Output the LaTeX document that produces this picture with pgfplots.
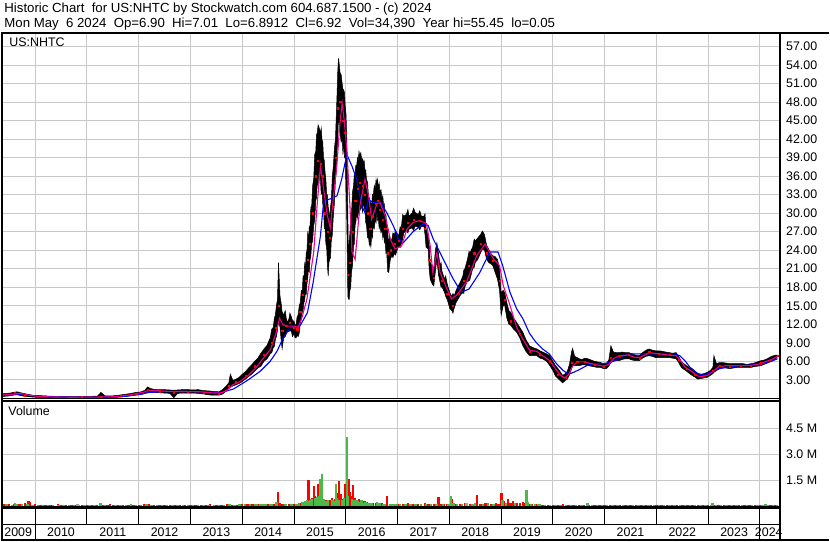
\documentclass[border=0pt]{standalone}
\usepackage{fontspec}
\setmainfont{Liberation Sans}
\usepackage{pgfplots}
\usepackage{pgfplotstable}
\pgfplotsset{compat=1.18}
\usepgfplotslibrary{fillbetween}
\definecolor{gridc}{HTML}{C8C8C8}
\definecolor{vgreen}{HTML}{4CB848}
\definecolor{vred}{HTML}{FF0000}
\definecolor{vgrey}{HTML}{A0A0A0}
\newcommand\lbl{\fontsize{12.5}{15}\selectfont}

% daily range envelope (high / low) and close
\pgfplotstableread{
t hi lo c
2009.38 0.75 0.30 0.55
2009.45 0.80 0.35 0.60
2009.52 0.85 0.40 0.65
2009.60 1.00 0.55 0.85
2009.66 1.05 0.60 0.90
2009.72 0.90 0.45 0.70
2009.80 0.75 0.30 0.50
2009.88 0.60 0.25 0.40
2009.95 0.50 0.20 0.35
2010.05 0.45 0.15 0.30
2010.15 0.40 0.10 0.25
2010.30 0.35 0.08 0.20
2010.45 0.30 0.05 0.15
2010.60 0.30 0.06 0.15
2010.75 0.30 0.06 0.18
2010.90 0.32 0.07 0.18
2011.05 0.32 0.08 0.20
2011.20 0.35 0.08 0.20
2011.27 0.95 0.10 0.30
2011.35 0.40 0.10 0.25
2011.50 0.40 0.12 0.25
2011.65 0.55 0.20 0.40
2011.75 0.65 0.30 0.50
2011.85 0.80 0.40 0.65
2011.95 0.95 0.55 0.80
2012.05 1.05 0.60 0.85
2012.12 1.30 0.80 1.10
2012.17 1.85 1.10 1.40
2012.22 1.60 1.00 1.30
2012.30 1.45 0.95 1.20
2012.40 1.40 0.90 1.15
2012.50 1.40 0.85 1.10
2012.60 1.35 0.80 1.05
2012.68 1.30 0.10 1.00
2012.75 1.35 0.80 1.05
2012.85 1.40 0.85 1.10
2012.95 1.40 0.85 1.10
2013.05 1.35 0.85 1.05
2013.15 1.40 0.80 1.05
2013.25 1.25 0.70 0.95
2013.35 1.20 0.55 0.85
2013.45 1.10 0.50 0.80
2013.55 1.05 0.50 0.80
2013.62 1.40 0.70 1.10
2013.68 1.90 1.10 1.50
2013.74 2.50 1.60 2.10
2013.77 3.90 1.80 2.40
2013.82 2.90 2.00 2.50
2013.88 3.10 2.20 2.70
2013.94 3.40 2.40 2.90
2014.00 3.90 2.70 3.30
2014.06 4.30 3.10 3.70
2014.12 4.90 3.50 4.20
2014.18 5.40 3.90 4.60
2014.24 6.00 4.40 5.20
2014.30 6.50 4.90 5.60
2014.36 7.30 5.20 6.30
2014.42 8.00 6.00 7.00
2014.48 8.60 6.40 7.60
2014.54 9.80 7.20 8.50
2014.57 11.20 7.40 9.00
2014.60 11.50 8.20 9.80
2014.62 13.00 8.40 10.50
2014.64 13.50 9.50 11.50
2014.66 15.00 10.00 12.20
2014.68 16.00 11.00 13.50
2014.70 22.00 12.50 15.00
2014.73 16.50 11.50 13.00
2014.75 15.50 9.50 12.00
2014.77 14.00 8.00 11.00
2014.80 13.50 9.80 11.50
2014.83 14.20 10.00 11.60
2014.85 13.00 10.50 11.80
2014.87 12.30 10.90 11.60
2014.90 12.80 10.80 11.80
2014.92 13.80 11.00 12.20
2014.95 13.20 10.80 12.00
2014.97 12.60 10.00 11.40
2015.00 12.50 10.50 11.50
2015.02 11.80 9.80 10.80
2015.04 12.00 9.80 10.80
2015.06 13.20 10.20 11.20
2015.08 13.50 10.00 11.50
2015.10 15.00 10.50 13.00
2015.12 15.50 12.00 14.00
2015.14 17.50 12.80 15.00
2015.16 17.50 14.00 16.00
2015.175 19.80 14.20 16.80
2015.19 19.50 15.50 17.50
2015.205 21.80 15.80 18.50
2015.22 21.00 17.00 19.00
2015.235 23.50 16.80 20.00
2015.25 24.00 18.50 21.50
2015.265 26.80 19.50 22.50
2015.28 26.00 21.00 23.50
2015.295 27.80 20.50 24.00
2015.31 28.00 22.50 25.00
2015.325 31.00 23.00 27.00
2015.34 31.00 25.00 28.00
2015.36 34.50 25.50 30.00
2015.38 35.50 28.00 31.00
2015.40 39.50 28.80 33.00
2015.42 40.00 32.00 36.00
2015.435 42.80 32.50 37.00
2015.45 43.00 35.00 39.00
2015.465 44.30 34.50 38.50
2015.48 44.00 36.60 40.00
2015.495 43.50 36.00 40.00
2015.51 43.00 35.50 38.00
2015.525 43.80 33.00 37.50
2015.54 42.00 34.00 37.00
2015.555 41.50 31.50 36.00
2015.57 39.00 31.00 34.00
2015.585 38.50 27.50 32.00
2015.60 36.60 27.50 30.00
2015.615 35.50 25.00 29.00
2015.63 33.00 24.50 27.00
2015.645 33.00 21.50 27.00
2015.66 31.00 19.80 25.00
2015.675 30.50 22.00 26.50
2015.69 28.50 22.50 26.00
2015.705 31.00 22.80 27.00
2015.72 32.00 25.50 29.00
2015.74 36.00 26.50 31.00
2015.76 37.70 29.60 34.00
2015.78 40.50 31.50 36.50
2015.80 42.00 35.50 39.00
2015.815 45.50 36.50 41.00
2015.83 49.00 40.00 45.00
2015.845 53.00 41.50 47.00
2015.86 55.10 46.60 50.00
2015.875 54.00 44.00 49.00
2015.89 52.70 43.00 48.00
2015.91 52.50 41.50 47.00
2015.93 51.00 42.00 46.00
2015.945 50.00 39.50 45.00
2015.96 50.00 41.90 45.00
2015.975 49.50 39.00 44.00
2015.99 47.30 39.30 43.00
2016.005 46.00 33.00 39.00
2016.02 41.90 28.50 33.00
2016.04 30.00 16.50 20.00
2016.05 23.10 16.10 19.00
2016.065 25.50 16.00 20.50
2016.08 26.80 17.50 22.00
2016.095 29.50 18.00 23.50
2016.11 30.00 20.40 25.00
2016.13 33.50 21.50 27.00
2016.15 34.40 24.70 29.00
2016.165 36.50 25.00 30.50
2016.18 36.50 28.00 32.00
2016.195 37.80 28.50 33.00
2016.21 37.70 30.10 34.00
2016.225 39.00 29.20 34.00
2016.24 38.50 30.50 34.50
2016.255 40.00 29.80 35.00
2016.27 39.30 31.20 35.00
2016.29 39.80 30.50 35.00
2016.31 38.50 31.50 35.00
2016.325 38.80 30.00 34.50
2016.34 38.20 32.30 35.00
2016.355 38.50 30.80 34.00
2016.37 37.00 30.50 33.00
2016.385 37.00 28.50 32.00
2016.40 35.50 28.00 31.00
2016.42 35.00 26.00 30.00
2016.44 32.50 26.00 29.00
2016.455 32.50 24.80 28.50
2016.47 32.00 25.30 27.50
2016.485 31.50 24.50 28.00
2016.50 31.50 26.50 29.00
2016.515 33.00 26.00 29.50
2016.53 32.80 28.00 30.50
2016.55 34.50 27.50 31.00
2016.57 34.00 29.00 31.50
2016.585 35.50 28.50 32.00
2016.60 34.90 30.10 32.50
2016.615 35.50 28.80 32.00
2016.63 34.00 29.00 31.50
2016.645 34.80 27.50 31.00
2016.66 33.30 28.00 30.50
2016.68 33.80 26.80 30.00
2016.70 32.20 27.40 29.50
2016.715 32.80 26.00 29.00
2016.73 31.20 26.90 29.00
2016.745 31.50 25.20 28.50
2016.76 29.50 25.50 27.50
2016.775 29.80 23.50 26.50
2016.79 27.90 23.70 25.50
2016.81 27.00 20.50 23.50
2016.83 24.70 20.40 22.50
2016.845 26.50 21.50 23.50
2016.86 25.50 22.50 24.00
2016.89 25.80 23.10 24.50
2016.91 26.80 22.80 24.50
2016.94 26.50 23.50 25.00
2016.96 27.30 23.20 25.00
2016.98 26.90 23.70 25.50
2017.02 26.30 24.70 25.50
2017.05 27.80 24.40 26.00
2017.07 27.50 25.00 26.50
2017.10 29.80 25.80 27.50
2017.12 29.50 26.80 28.00
2017.17 29.80 27.20 28.50
2017.20 30.60 26.80 28.50
2017.22 29.50 27.40 28.50
2017.28 30.00 27.60 29.00
2017.31 30.80 27.20 29.00
2017.34 30.10 27.90 29.00
2017.40 29.80 27.70 28.80
2017.43 30.40 27.30 28.80
2017.46 29.50 27.90 28.80
2017.51 29.50 27.80 28.50
2017.53 29.90 26.50 27.50
2017.55 27.50 24.50 26.00
2017.59 26.30 24.20 25.00
2017.61 25.00 21.00 22.50
2017.63 22.00 19.30 20.50
2017.67 21.50 18.50 20.00
2017.70 21.00 18.20 19.50
2017.73 24.00 20.50 22.50
2017.76 25.20 22.50 24.00
2017.79 23.50 20.00 21.50
2017.82 21.50 18.80 20.00
2017.84 22.00 18.00 19.50
2017.86 20.50 18.00 19.00
2017.91 19.30 17.10 18.00
2017.93 19.80 16.50 17.50
2017.96 18.50 16.00 17.00
2018.01 17.10 14.50 15.50
2018.05 16.50 14.20 15.00
2018.07 17.00 13.80 15.00
2018.09 16.50 14.50 15.50
2018.13 17.50 15.50 16.50
2018.17 18.20 16.10 17.00
2018.22 19.00 16.80 18.00
2018.26 19.80 17.10 18.50
2018.28 20.80 17.00 19.00
2018.30 21.00 18.00 19.50
2018.35 22.50 19.00 21.00
2018.38 23.80 19.00 21.50
2018.40 23.60 19.30 21.50
2018.45 24.50 21.00 23.00
2018.48 25.80 21.20 23.50
2018.50 25.50 22.00 24.00
2018.55 26.00 22.50 24.50
2018.60 26.50 23.50 25.00
2018.64 27.10 24.20 25.50
2018.68 26.50 24.00 25.00
2018.72 24.80 22.50 23.50
2018.76 24.20 22.00 23.00
2018.80 23.50 21.80 22.50
2018.84 23.10 21.50 22.30
2018.88 23.00 20.50 21.50
2018.93 22.50 19.30 20.50
2018.97 21.00 17.50 19.00
2019.00 17.10 13.40 15.00
2019.04 17.50 15.00 16.00
2019.07 17.10 15.00 16.00
2019.11 15.50 13.00 14.00
2019.15 14.20 12.00 13.00
2019.19 13.90 11.80 12.50
2019.24 13.00 11.20 12.00
2019.30 12.30 10.70 11.50
2019.36 11.50 9.80 10.50
2019.42 10.70 8.50 9.50
2019.48 9.50 7.60 8.50
2019.55 8.50 6.90 7.60
2019.62 8.20 6.90 7.50
2019.69 8.00 6.90 7.40
2019.75 7.70 6.50 7.00
2019.80 7.50 6.40 6.90
2019.88 7.20 6.00 6.50
2019.94 6.90 5.30 6.00
2020.00 6.00 4.50 5.20
2020.05 5.30 3.60 4.30
2020.10 4.80 3.20 3.80
2020.15 4.20 2.80 3.40
2020.19 3.70 2.50 3.10
2020.24 4.00 2.90 3.40
2020.28 4.40 3.10 3.70
2020.32 5.50 3.80 4.70
2020.36 7.50 4.80 5.80
2020.38 8.10 5.30 6.50
2020.42 6.80 5.30 6.00
2020.47 6.60 5.30 5.90
2020.51 6.40 5.30 5.80
2020.56 6.30 5.40 5.80
2020.62 6.50 5.40 5.90
2020.68 6.40 5.30 5.80
2020.74 6.20 5.20 5.70
2020.80 6.00 5.10 5.50
2020.86 5.90 5.00 5.40
2020.92 5.80 5.00 5.40
2020.98 5.60 4.80 5.20
2021.03 5.60 4.80 5.20
2021.08 6.20 5.20 5.80
2021.12 8.50 5.80 6.60
2021.17 7.50 6.00 6.80
2021.22 7.40 6.10 6.80
2021.28 7.40 6.10 6.90
2021.34 7.50 6.30 7.00
2021.40 7.40 6.40 7.00
2021.47 7.40 6.40 7.00
2021.53 7.20 6.20 6.80
2021.60 7.00 6.10 6.50
2021.67 6.90 6.10 6.50
2021.73 7.40 6.50 7.00
2021.80 7.80 6.80 7.30
2021.86 8.00 6.90 7.50
2021.92 7.80 6.80 7.30
2021.98 7.70 6.60 7.20
2022.05 7.70 6.60 7.20
2022.12 7.60 6.60 7.10
2022.18 7.50 6.60 7.00
2022.25 7.40 6.60 7.00
2022.31 7.30 6.50 6.90
2022.38 7.40 6.40 6.90
2022.43 6.80 5.80 6.20
2022.48 6.00 5.00 5.50
2022.53 5.60 4.70 5.10
2022.58 5.30 4.40 4.80
2022.64 5.00 4.00 4.50
2022.69 4.80 3.70 4.20
2022.75 4.30 3.40 3.80
2022.80 4.00 3.10 3.50
2022.86 3.90 3.20 3.50
2022.92 4.00 3.30 3.60
2022.98 4.20 3.40 3.80
2023.04 4.50 3.70 4.10
2023.09 5.00 4.00 4.50
2023.11 6.90 4.20 5.00
2023.16 5.60 4.50 5.00
2023.22 5.80 4.80 5.30
2023.28 5.80 5.00 5.40
2023.35 5.70 4.90 5.30
2023.42 5.60 4.80 5.20
2023.48 5.60 4.90 5.20
2023.55 5.60 5.00 5.30
2023.62 5.60 5.00 5.30
2023.68 5.60 5.00 5.30
2023.75 5.50 5.00 5.30
2023.82 5.60 5.00 5.30
2023.88 5.70 5.10 5.40
2023.95 5.90 5.20 5.60
2024.02 6.10 5.30 5.70
2024.08 6.20 5.50 5.90
2024.14 6.40 5.70 6.10
2024.20 6.70 5.90 6.30
2024.26 6.90 6.10 6.50
2024.31 7.00 6.40 6.80
2024.34 7.01 6.89 6.92
}\price

% short moving average (magenta)
\pgfplotstableread{
t v
2009.38 0.55
2009.55 0.65
2009.70 0.80
2009.85 0.55
2010.00 0.35
2010.30 0.22
2010.70 0.17
2011.20 0.20
2011.50 0.25
2011.75 0.45
2011.95 0.75
2012.10 1.00
2012.20 1.30
2012.35 1.25
2012.60 1.10
2012.90 1.10
2013.20 1.05
2013.45 0.85
2013.60 0.90
2013.72 1.40
2013.82 2.20
2013.95 2.70
2014.10 3.60
2014.25 4.80
2014.40 6.40
2014.55 8.00
2014.65 10.50
2014.72 13.00
2014.78 12.00
2014.85 11.70
2015.00 11.70
2015.08 11.50
2015.15 13.00
2015.25 16.10
2015.38 23.70
2015.45 31.70
2015.51 37.60
2015.57 34.00
2015.64 29.80
2015.70 27.60
2015.76 32.50
2015.83 38.00
2015.88 44.00
2015.93 47.80
2015.97 45.00
2016.02 40.30
2016.08 31.20
2016.12 23.70
2016.18 22.50
2016.27 31.10
2016.37 35.50
2016.44 32.80
2016.50 29.00
2016.60 31.50
2016.66 31.70
2016.76 29.60
2016.86 25.80
2016.95 24.20
2017.08 24.70
2017.18 27.40
2017.30 28.50
2017.43 28.80
2017.56 28.30
2017.63 24.70
2017.68 20.40
2017.76 23.60
2017.82 20.40
2017.95 17.80
2018.04 16.10
2018.14 16.70
2018.33 18.80
2018.53 23.10
2018.69 25.00
2018.85 22.60
2018.97 21.50
2019.04 18.30
2019.17 15.10
2019.30 11.50
2019.42 9.60
2019.55 7.80
2019.69 7.60
2019.80 6.90
2019.94 6.10
2020.05 4.80
2020.15 3.70
2020.22 3.30
2020.30 3.80
2020.38 5.20
2020.47 5.90
2020.60 5.90
2020.80 5.50
2020.98 5.20
2021.08 5.50
2021.18 6.50
2021.30 6.90
2021.45 7.00
2021.60 6.60
2021.70 6.70
2021.86 7.40
2022.05 7.20
2022.25 7.00
2022.38 6.90
2022.45 6.30
2022.55 5.10
2022.69 4.30
2022.80 3.60
2022.90 3.50
2023.00 3.80
2023.10 4.40
2023.20 5.10
2023.35 5.30
2023.55 5.30
2023.80 5.30
2023.95 5.50
2024.10 5.90
2024.25 6.40
2024.34 6.80
}\mashort

% long moving average (blue)
\pgfplotstableread{
t v
2009.38 0.50
2009.60 0.60
2009.80 0.55
2010.00 0.40
2010.30 0.25
2010.80 0.18
2011.30 0.20
2011.70 0.30
2012.00 0.60
2012.20 0.95
2012.50 1.10
2013.00 1.10
2013.40 1.00
2013.60 0.95
2013.83 1.50
2014.10 2.90
2014.35 4.40
2014.54 6.00
2014.67 7.60
2014.78 9.60
2014.93 11.50
2015.12 11.80
2015.26 13.90
2015.37 18.80
2015.51 26.30
2015.57 31.70
2015.64 32.20
2015.70 32.30
2015.83 32.80
2015.92 35.50
2016.02 39.50
2016.12 37.60
2016.21 35.50
2016.31 31.10
2016.37 30.10
2016.44 32.20
2016.53 31.70
2016.66 31.90
2016.79 30.10
2016.92 27.90
2017.02 25.80
2017.11 25.20
2017.30 27.00
2017.50 28.30
2017.59 28.00
2017.69 25.80
2017.88 22.60
2018.07 19.40
2018.23 17.20
2018.38 17.70
2018.59 20.40
2018.78 23.70
2018.94 23.70
2019.03 21.50
2019.17 17.20
2019.30 14.50
2019.42 12.90
2019.55 10.50
2019.68 9.00
2019.80 8.00
2019.93 7.20
2020.07 5.60
2020.20 4.50
2020.30 3.90
2020.40 4.20
2020.50 4.60
2020.70 5.50
2020.90 5.60
2021.05 5.70
2021.20 6.10
2021.35 6.90
2021.50 7.20
2021.80 7.20
2022.10 7.20
2022.35 7.20
2022.45 6.90
2022.55 6.10
2022.65 5.00
2022.80 4.00
2022.92 3.70
2023.03 4.20
2023.15 4.70
2023.35 5.00
2023.60 5.30
2023.85 5.40
2024.05 5.60
2024.20 6.00
2024.34 6.40
}\malong

\pgfplotsset{panel/.style={
  scale only axis, anchor=south west,
  xmin=2009.374, xmax=2024.385,
  axis line style={black, line width=1.2bp},
  xtick={2010,2011,2012,2013,2014,2015,2016,2017,2018,2019,2020,2021,2022,2023,2024},
  xticklabels={},
  xmajorgrids, ymajorgrids, grid style={gridc, line width=1bp},
  tick style={draw=none}, major tick length=0pt,
  yticklabel pos=right,
  yticklabel style={anchor=west, inner sep=0pt, xshift=6bp, font=\lbl},
}}

\begin{document}
\begin{tikzpicture}[x=1bp,y=1bp]
\path (0,0) rectangle (830,543);

% ---------------- price panel ----------------
\begin{axis}[panel, at={(1.5bp,143bp)}, width=779.5bp, height=367bp,
  ymin=-0.08, ymax=59.21,
  ytick={3,6,9,12,15,18,21,24,27,30,33,36,39,42,45,48,51,54,57},
  yticklabels={3.00,6.00,9.00,12.00,15.00,18.00,21.00,24.00,27.00,30.00,33.00,36.00,39.00,42.00,45.00,48.00,51.00,54.00,57.00}]
\addplot[name path=hi, black, line width=0.5bp] table[x=t,y=hi]{\price};
\addplot[name path=lo, black, line width=0.5bp] table[x=t,y=lo]{\price};
\addplot[black] fill between[of=hi and lo];
\addplot[only marks, mark=square*, mark size=0.6bp, red, mark repeat=3] table[x=t,y=c]{\price};
\addplot[blue, line width=1.1bp] table[x=t,y=v]{\malong};
\addplot[magenta, line width=1.1bp] table[x=t,y=v]{\mashort};
\end{axis}

% ---------------- volume panel ----------------
\begin{axis}[panel, at={(1.5bp,35bp)}, width=779.5bp, height=106bp,
  ymin=0, ymax=6.07,
  ytick={1.5,3,4.5}, yticklabels={1.5 M,3.0 M,4.5 M},
  extra x ticks={2009.673,2010.5,2011.5,2012.5,2013.5,2014.5,2015.5,2016.5,2017.5,2018.5,2019.5,2020.5,2021.5,2022.5,2023.5,2024.17},
  extra x tick labels={2009,2010,2011,2012,2013,2014,2015,2016,2017,2018,2019,2020,2021,2022,2023,2024},
  extra x tick style={grid=none, tick label style={anchor=center, inner sep=0pt, yshift=-26bp, font=\lbl}}]
\addplot[ycomb, vred, line width=2.4bp, mark=none] coordinates {
(2009.40,0.14)(2009.50,0.12)(2009.60,0.16)(2009.70,0.13)(2009.80,0.18)(2009.87,0.34)(2009.90,0.28)
(2010.00,0.12)(2010.10,0.09)(2010.20,0.10)(2010.30,0.08)(2010.44,0.14)(2010.50,0.09)(2010.60,0.10)(2010.70,0.08)(2010.80,0.09)(2010.90,0.08)
(2011.00,0.09)(2011.10,0.08)(2011.20,0.10)(2011.30,0.08)(2011.40,0.09)(2011.45,0.12)(2011.50,0.09)(2011.60,0.08)(2011.70,0.10)(2011.80,0.09)(2011.90,0.10)
(2012.00,0.11)(2012.10,0.13)(2012.20,0.12)(2012.30,0.10)(2012.40,0.09)(2012.50,0.10)(2012.60,0.09)(2012.70,0.11)(2012.80,0.09)(2012.90,0.10)
(2013.00,0.09)(2013.10,0.10)(2013.20,0.09)(2013.30,0.11)(2013.38,0.16)(2013.45,0.10)(2013.50,0.09)(2013.60,0.10)(2013.70,0.12)(2013.80,0.11)(2013.90,0.10)
(2014.00,0.12)(2014.10,0.13)(2014.20,0.12)(2014.30,0.15)(2014.40,0.14)(2014.50,0.16)(2014.60,0.15)(2014.69,0.82)(2014.72,0.20)(2014.77,0.16)(2014.80,0.15)(2014.90,0.14)
(2015.00,0.13)(2015.06,0.15)(2015.12,0.15)(2015.14,0.20)(2015.18,0.25)(2015.20,0.18)(2015.24,0.30)(2015.28,1.50)(2015.33,0.35)(2015.36,0.50)(2015.38,1.19)(2015.41,0.60)(2015.44,0.45)(2015.47,1.31)(2015.50,0.30)(2015.53,0.40)(2015.56,0.30)(2015.63,0.35)(2015.65,0.30)(2015.67,0.28)(2015.69,0.40)(2015.71,0.34)(2015.73,0.50)(2015.75,0.34)(2015.77,0.35)(2015.80,0.45)(2015.84,0.78)(2015.87,1.49)(2015.89,0.50)(2015.91,0.69)(2015.93,0.45)(2015.96,0.34)(2015.99,1.31)
(2016.00,0.50)(2016.05,1.59)(2016.08,0.82)(2016.10,0.60)(2016.14,1.26)(2016.16,0.50)(2016.18,0.50)(2016.20,0.40)(2016.23,0.35)(2016.25,0.45)(2016.28,0.30)(2016.31,0.34)(2016.33,0.30)(2016.37,0.30)(2016.40,0.25)(2016.44,0.22)(2016.48,0.20)(2016.53,0.18)(2016.58,0.20)(2016.66,0.16)(2016.70,0.18)(2016.79,0.62)(2016.85,0.16)(2016.90,0.15)(2016.95,0.14)
(2017.00,0.16)(2017.10,0.15)(2017.20,0.18)(2017.30,0.16)(2017.40,0.14)(2017.53,0.20)(2017.60,0.16)(2017.70,0.15)(2017.79,0.57)(2017.85,0.16)(2017.90,0.14)(2017.95,0.17)
(2018.04,0.45)(2018.10,0.16)(2018.20,0.14)(2018.30,0.18)(2018.40,0.16)(2018.54,0.67)(2018.60,0.16)(2018.70,0.18)(2018.80,0.16)(2018.90,0.19)(2018.95,0.16)
(2019.01,0.75)(2019.06,0.30)(2019.13,0.45)(2019.18,0.22)(2019.23,0.30)(2019.30,0.20)(2019.36,0.18)(2019.42,0.25)(2019.46,0.20)(2019.55,0.15)(2019.60,0.13)(2019.70,0.12)(2019.80,0.11)(2019.90,0.10)
(2020.00,0.11)(2020.10,0.10)(2020.20,0.12)(2020.30,0.10)(2020.40,0.11)(2020.50,0.09)(2020.60,0.10)(2020.70,0.09)(2020.80,0.10)(2020.90,0.09)
(2021.00,0.10)(2021.10,0.11)(2021.20,0.09)(2021.30,0.10)(2021.40,0.09)(2021.50,0.11)(2021.60,0.09)(2021.70,0.10)(2021.80,0.09)(2021.90,0.10)
(2022.00,0.09)(2022.10,0.10)(2022.20,0.09)(2022.30,0.10)(2022.40,0.09)(2022.50,0.11)(2022.60,0.10)(2022.70,0.09)(2022.80,0.10)(2022.90,0.09)
(2023.00,0.10)(2023.10,0.09)(2023.20,0.10)(2023.30,0.09)(2023.40,0.10)(2023.50,0.09)(2023.60,0.10)(2023.70,0.09)(2023.80,0.10)(2023.90,0.09)
(2024.00,0.10)(2024.10,0.09)(2024.20,0.10)(2024.30,0.09)};
\addplot[ycomb, vgreen, line width=2.4bp, mark=none] coordinates {
(2009.45,0.13)(2009.55,0.11)(2009.615,0.20)(2009.65,0.14)(2009.75,0.12)(2009.85,0.14)(2009.95,0.11)
(2010.05,0.09)(2010.15,0.08)(2010.25,0.10)(2010.35,0.09)(2010.45,0.08)(2010.55,0.09)(2010.65,0.10)(2010.75,0.08)(2010.85,0.09)(2010.95,0.08)
(2011.05,0.09)(2011.15,0.10)(2011.26,0.20)(2011.35,0.08)(2011.55,0.09)(2011.65,0.08)(2011.75,0.09)(2011.85,0.13)(2011.95,0.09)
(2012.05,0.10)(2012.15,0.12)(2012.25,0.11)(2012.35,0.10)(2012.45,0.09)(2012.55,0.10)(2012.65,0.09)(2012.75,0.10)(2012.85,0.09)(2012.95,0.10)
(2013.05,0.10)(2013.15,0.09)(2013.25,0.10)(2013.35,0.09)(2013.45,0.10)(2013.55,0.09)(2013.65,0.11)(2013.75,0.12)(2013.85,0.11)(2013.95,0.12)
(2014.05,0.13)(2014.15,0.14)(2014.25,0.13)(2014.29,0.12)(2014.35,0.15)(2014.41,0.14)(2014.45,0.15)(2014.54,0.16)(2014.58,0.16)(2014.66,0.24)(2014.83,0.16)(2014.85,0.14)(2014.95,0.13)
(2015.05,0.14)(2015.10,0.18)(2015.15,0.22)(2015.16,0.25)(2015.22,0.30)(2015.25,0.39)(2015.27,0.30)(2015.31,0.39)(2015.34,0.45)(2015.35,0.45)(2015.40,0.50)(2015.44,0.57)(2015.46,0.40)(2015.49,0.60)(2015.51,1.59)(2015.54,1.89)(2015.57,0.45)(2015.60,0.28)(2015.62,0.30)(2015.66,0.35)(2015.74,0.40)(2015.78,0.30)(2015.81,1.31)(2015.83,0.50)(2015.86,0.40)(2015.94,0.40)(2015.97,0.50)
(2016.02,4.00)(2016.04,0.60)(2016.12,0.45)(2016.16,0.35)(2016.21,0.40)(2016.24,0.30)(2016.28,0.25)(2016.30,0.35)(2016.34,0.20)(2016.38,0.25)(2016.41,0.22)(2016.45,0.20)(2016.47,0.22)(2016.50,0.18)(2016.60,0.25)(2016.65,0.18)(2016.73,0.17)(2016.75,0.16)(2016.86,0.15)(2016.92,0.17)(2016.98,0.15)
(2017.05,0.17)(2017.15,0.15)(2017.25,0.14)(2017.35,0.17)(2017.45,0.15)(2017.55,0.14)(2017.65,0.16)(2017.75,0.15)(2017.88,0.16)(2017.98,0.14)
(2018.03,0.60)(2018.08,0.18)(2018.15,0.16)(2018.25,0.17)(2018.45,0.16)(2018.50,0.18)(2018.65,0.17)(2018.75,0.19)(2018.85,0.16)
(2019.03,0.40)(2019.10,0.20)(2019.27,0.18)(2019.49,0.93)(2019.52,0.28)(2019.58,0.17)(2019.65,0.13)(2019.71,0.14)(2019.75,0.12)(2019.85,0.11)(2019.95,0.10)
(2020.05,0.10)(2020.15,0.09)(2020.25,0.11)(2020.35,0.10)(2020.45,0.09)(2020.55,0.11)(2020.67,0.19)(2020.75,0.10)(2020.85,0.09)(2020.95,0.10)
(2021.05,0.09)(2021.15,0.10)(2021.25,0.09)(2021.35,0.10)(2021.45,0.09)(2021.55,0.10)(2021.65,0.09)(2021.75,0.10)(2021.85,0.09)(2021.95,0.10)
(2022.05,0.10)(2022.15,0.09)(2022.25,0.10)(2022.35,0.09)(2022.45,0.10)(2022.55,0.09)(2022.65,0.10)(2022.75,0.09)(2022.85,0.10)(2022.95,0.09)
(2023.05,0.10)(2023.08,0.19)(2023.15,0.09)(2023.25,0.10)(2023.35,0.09)(2023.45,0.10)(2023.55,0.09)(2023.65,0.10)(2023.75,0.09)(2023.85,0.10)(2023.95,0.09)
(2024.05,0.09)(2024.11,0.14)(2024.15,0.10)(2024.25,0.09)(2024.33,0.10)};
\addplot[ycomb, vgrey, line width=2.4bp, mark=none] coordinates {
(2010.82,0.12)(2018.33,0.19)};
\end{axis}

% ---------------- frame, header and labels ----------------
\draw[black, line width=2.5bp] (0,510) -- (830,510);
\draw[black, line width=2.5bp] (781,1.3) -- (781,510);
\draw[black, line width=2.4bp] (1.5,33.8) -- (781,33.8);
\draw[black, line width=1.2bp] (1.5,143) -- (781,143);
\draw[black, line width=1bp] (1.5,140.5) -- (781,140.5);
\draw[black, line width=1.6bp] (0.8,1.3) -- (0.8,510);
\draw[black, line width=1bp] (1.5,17.3) -- (781,17.3);
\draw[black, line width=1.6bp] (0,1.3) -- (830,1.3);
\foreach \k in {0,...,14} {\draw[black, line width=1bp] (34+51.93*\k,33) -- (34+51.93*\k,17.3);}
\draw[black, line width=1bp] (34,17.3) -- (34,1.3);
\draw[black, line width=1bp] (761,17.3) -- (761,1.3);

\node[anchor=base west, inner sep=0pt, font=\fontsize{13.3}{15}\selectfont] at (3,530)
  {Historic Chart\ \ for US:NHTC by Stockwatch.com 604.687.1500 - (c) 2024};
\node[anchor=base west, inner sep=0pt, font=\fontsize{13.3}{15}\selectfont] at (3,515)
  {Mon May\ \ 6 2024\ \ Op=6.90\ \ Hi=7.01\ \ Lo=6.8912\ \ Cl=6.92\ \ Vol=34,390\ \ Year hi=55.45\ \ lo=0.05};
\node[anchor=base west, inner sep=0pt, font=\lbl] at (8,496) {US:NHTC};
\node[anchor=base west, inner sep=0pt, font=\lbl] at (7,126) {Volume};
\end{tikzpicture}
\end{document}
